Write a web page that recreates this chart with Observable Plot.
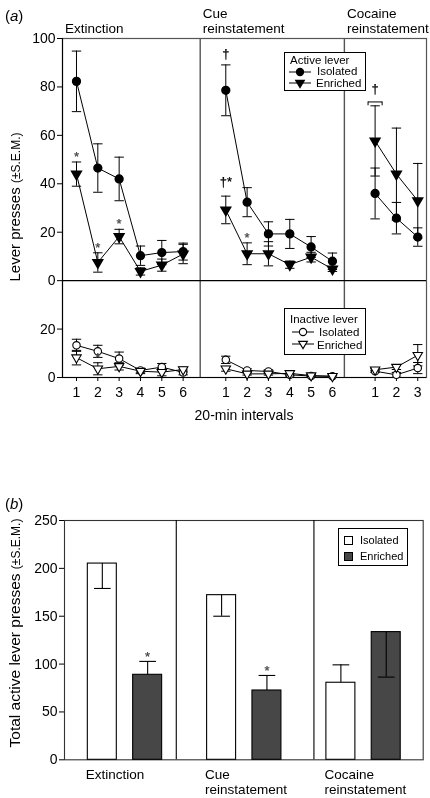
<!DOCTYPE html>
<html><head><meta charset="utf-8">
<script src="https://cdn.jsdelivr.net/npm/d3@7"></script>
<script src="https://cdn.jsdelivr.net/npm/@observablehq/plot@0.6"></script>
<style>
body{margin:0;background:#fff;}
#root{position:relative;width:430px;height:798px;font-family:"Liberation Sans",Arial,sans-serif;color:#000;overflow:hidden;will-change:transform}
.abs{position:absolute;white-space:nowrap}
.leg{position:absolute;background:#fff;border:1px solid #000;box-sizing:border-box;line-height:13px;will-change:transform}
.ylab{position:absolute;width:320px;height:20px;line-height:20px;text-align:center;transform:rotate(-90deg);white-space:nowrap}
.sc{font-size:12px}
svg{will-change:transform}
</style></head><body><div id="root"></div>
<script>
// ---------------- DATA ----------------
const phases = ["Extinction", "Cue reinstatement", "Cocaine reinstatement"];
const phaseTitles = ["Extinction", "Cue\nreinstatement", "Cocaine\nreinstatement"];
const intervals = [[1,2,3,4,5,6],[1,2,3,4,5,6],[1,2,3]];
const groups = ["Isolated", "Enriched"];

// Active lever presses (mean, S.E.M.) per phase and 20-min interval
const activeIsolatedMean = [[82.3,46.5,42,10.3,11.6,12],[78.6,32.4,19.3,19.3,13.9,8],[36,25.8,18]];
const activeIsolatedSem  = [[12.5,10,9,4,5,3.5],[10.5,6,5,6,4.3,3.4],[10.5,6.5,3.8]];
const activeEnrichedMean = [[44,7.5,18.2,3.8,6.4,11],[29.2,11.1,11.1,6.6,9.7,4.8],[57.7,44,33]];
const activeEnrichedSem  = [[5,4,3,1.5,2.5,4],[5.7,4.5,5,1.5,2,1],[14.5,19,15.4]];

// Inactive lever presses
const inactiveIsolatedMean = [[13.3,10.8,7.8,2.9,4.3,2.1],[7.3,2.9,2.5,1.1,0.6,0.5],[2.6,1.1,3.9]];
const inactiveIsolatedSem  = [[2.5,2.5,2.7,1,1.5,1],[1.5,0.7,0.7,0.5,0.5,0.5],[0.5,1,2.3]];
const inactiveEnrichedMean = [[8.2,3.6,4.6,2.6,2.2,3.3],[3.6,1.5,1.5,1.7,0.8,0.5],[3.2,4.3,9.2]];
const inactiveEnrichedSem  = [[3,2.5,1.5,1,1.5,1],[1,0.5,0.5,0.7,0.5,0.5],[0.5,1,4.4]];

// significance marks (panel a)
const sigAnnotations = [
  {lever:"Active", phase:0, interval:1, group:"Enriched", label:"*"},
  {lever:"Active", phase:0, interval:2, group:"Enriched", label:"*"},
  {lever:"Active", phase:0, interval:3, group:"Enriched", label:"*"},
  {lever:"Inactive", phase:0, interval:2, group:"Enriched", label:"*"},
  {lever:"Active", phase:1, interval:1, group:"Isolated", label:"†"},
  {lever:"Active", phase:1, interval:1, group:"Enriched", label:"†*"},
  {lever:"Active", phase:1, interval:2, group:"Enriched", label:"*"},
  {lever:"Active", phase:2, interval:1, group:"Enriched", label:"†", bracket:true}
];

const yTicksA = [-40, -20, 0, 20, 40, 60, 80, 100];
const yTickLabelsA = ["0", "20", "0", "20", "40", "60", "80", "100"];

// Panel b: total active lever presses
const totalCategories = ["Extinction", "Cue\nreinstatement", "Cocaine\nreinstatement"];
const totalIsolatedMean = [205, 172, 80.5];
const totalIsolatedSem  = [26, 22, 18.7];
const totalEnrichedMean = [88.8, 72.4, 133.4];
const totalEnrichedSem  = [14, 15.7, 47];
const totalIsolatedErrDir = [-1, -1, 1];
const totalEnrichedErrDir = [1, 1, -1];
const totalSig = [{cat:0, group:"Enriched", label:"*"}, {cat:1, group:"Enriched", label:"*"}];
const yTicksB = [0, 50, 100, 150, 200, 250];

// ---------------- LAYOUT ----------------
const FONT = "Liberation Sans, Arial, sans-serif";
const phaseOffset = [0, 7, 14];
const separatorsA = [6.8, 13.56];
const xDomainA = [0.344, 17.41];
const inactiveBase = -40;
const capA = 0.22;

const triangleDown = {
  draw(context, size) {
    const y = -Math.sqrt(size / (Math.sqrt(3) * 3));
    context.moveTo(0, -y * 2);
    context.lineTo(-Math.sqrt(3) * y, y);
    context.lineTo(Math.sqrt(3) * y, y);
    context.closePath();
  }
};

const series = [
  {lever:"Active", group:"Isolated", mean:activeIsolatedMean, sem:activeIsolatedSem},
  {lever:"Active", group:"Enriched", mean:activeEnrichedMean, sem:activeEnrichedSem},
  {lever:"Inactive", group:"Isolated", mean:inactiveIsolatedMean, sem:inactiveIsolatedSem},
  {lever:"Inactive", group:"Enriched", mean:inactiveEnrichedMean, sem:inactiveEnrichedSem}
];
const rowsA = series.flatMap(s => phases.flatMap((ph, pi) => intervals[pi].map((iv, k) => {
  const base = s.lever === "Active" ? 0 : inactiveBase;
  const m = s.mean[pi][k], e = s.sem[pi][k];
  return {lever:s.lever, group:s.group, phase:pi, interval:iv, x:phaseOffset[pi] + iv,
          y: base + m, lo: Math.max(base, base + m - e), hi: base + m + e};
})));
const sel = (lever, group) => rowsA.filter(d => d.lever === lever && d.group === group);

const xTicksA = phases.flatMap((p, pi) => intervals[pi].map(iv => phaseOffset[pi] + iv));
const xLabelMap = new Map(phases.flatMap((p, pi) => intervals[pi].map(iv => [phaseOffset[pi] + iv, String(iv)])));
const yLabelMap = new Map(yTicksA.map((t, i) => [t, yTickLabelsA[i]]));

const sigRows = sigAnnotations.map(a => {
  const r = rowsA.find(d => d.lever === a.lever && d.group === a.group && d.phase === a.phase && d.interval === a.interval);
  const dy = a.bracket ? -17 : a.label === "*" ? -5 : a.label === "†" ? -11 : -14;
  return {...a, x: r.x, y: r.hi, dy};
});
const bracketRows = sigRows.filter(d => d.bracket);
const bracketRise = 1.6, bracketHalf = 0.33;

const titleRows = phaseTitles.map((t, i) => ({text: t, x: [xDomainA[0], ...separatorsA][i]}));

const plotA = Plot.plot({
  width: 430, height: 430,
  marginTop: 38, marginBottom: 53, marginLeft: 62, marginRight: 4,
  x: {domain: xDomainA, axis: null},
  y: {domain: [-40, 100], axis: null},
  style: {fontFamily: FONT, fontSize: "14px", background: "transparent", overflow: "visible"},
  marks: [
    Plot.frame({stroke: "#555", strokeWidth: 1.2}),
    Plot.ruleX(separatorsA, {stroke: "#555", strokeWidth: 1.4}),
    Plot.ruleY([0], {stroke: "#000", strokeWidth: 1.1}),
    Plot.ruleX([xDomainA[0]], {stroke: "#000", strokeWidth: 1.1}),
    Plot.ruleY([-40], {stroke: "#000", strokeWidth: 1.1}),
    Plot.axisY({ticks: yTicksA, tickFormat: d => yLabelMap.get(d), tickSize: 5, tickPadding: 2, fontSize: 14, label: null}),
    Plot.axisX({ticks: xTicksA, tickFormat: d => xLabelMap.get(d), tickSize: 4, tickPadding: 6, fontSize: 14, label: null}),
    Plot.text(titleRows, {x: "x", y: 100, text: "text", textAnchor: "start", lineAnchor: "bottom", dx: 2.5, dy: -6, fontSize: 13.5, lineHeight: 1.11}),
    // error bars
    Plot.ruleX(rowsA, {x: "x", y1: "lo", y2: "hi", stroke: "#000", strokeWidth: 1}),
    Plot.link(rowsA, {x1: d => d.x - capA, x2: d => d.x + capA, y1: "hi", y2: "hi", stroke: "#000", strokeWidth: 1}),
    Plot.link(rowsA, {x1: d => d.x - capA, x2: d => d.x + capA, y1: "lo", y2: "lo", stroke: "#000", strokeWidth: 1}),
    // lines
    Plot.line(rowsA, {x: "x", y: "y", z: d => `${d.lever}-${d.group}-${d.phase}`, stroke: "#000", strokeWidth: 1}),
    // markers
    Plot.dot(sel("Active", "Isolated"), {x: "x", y: "y", r: 3.9, fill: "#000", stroke: "#000"}),
    Plot.dot(sel("Active", "Enriched"), {x: "x", y: "y", r: 3.6, symbol: triangleDown, fill: "#000", stroke: "#000"}),
    Plot.dot(sel("Inactive", "Isolated"), {x: "x", y: "y", r: 3.7, fill: "#fff", stroke: "#000", strokeWidth: 1.1}),
    Plot.dot(sel("Inactive", "Enriched"), {x: "x", y: "y", r: 3.5, symbol: triangleDown, fill: "#fff", stroke: "#000", strokeWidth: 1.1}),
    // significance
    ...sigRows.map(s => Plot.text([s], {x: "x", y: "y", text: "label", dy: s.dy, fontSize: 13,
        fill: s.label === "*" ? "#444" : "#000", stroke: s.label === "*" ? "#444" : "#000", strokeWidth: 0.25})),
    Plot.link(bracketRows, {x1: d => d.x - bracketHalf, x2: d => d.x + bracketHalf, y1: d => d.y + bracketRise, y2: d => d.y + bracketRise, stroke: "#000"}),
    Plot.ruleX(bracketRows, {x: d => d.x - bracketHalf, y1: "y", y2: d => d.y + bracketRise, stroke: "#000"}),
    Plot.ruleX(bracketRows, {x: d => d.x + bracketHalf, y1: "y", y2: d => d.y + bracketRise, stroke: "#000"})
  ]
});

// Panel b
const barOffset = 0.19, barHalf = 0.1215, capB = 0.07;
const rowsB = totalCategories.flatMap((c, g) => [
  {cat: g, group: "Isolated", x: g - barOffset, mean: totalIsolatedMean[g], sem: totalIsolatedSem[g], dir: totalIsolatedErrDir[g]},
  {cat: g, group: "Enriched", x: g + barOffset, mean: totalEnrichedMean[g], sem: totalEnrichedSem[g], dir: totalEnrichedErrDir[g]}
]).map(d => ({...d, err: d.mean + d.dir * d.sem}));
const sigB = totalSig.map(s => {
  const r = rowsB.find(d => d.cat === s.cat && d.group === s.group);
  return {...s, x: r.x, y: Math.max(r.mean, r.err)};
});
const catRows = totalCategories.map((c, g) => ({text: c, x: g - barOffset - barHalf}));

const plotB = Plot.plot({
  width: 430, height: 298,
  marginTop: 20, marginBottom: 38.7, marginLeft: 64, marginRight: 7.3,
  x: {domain: [-0.507, 2.5], axis: null},
  y: {domain: [0, 250], axis: null},
  style: {fontFamily: FONT, fontSize: "14px", background: "transparent", overflow: "visible"},
  marks: [
    Plot.frame({stroke: "#333", strokeWidth: 1.1}),
    Plot.ruleX([0.43, 1.584], {stroke: "#000", strokeWidth: 1.1}),
    Plot.axisY({ticks: yTicksB, tickSize: 5, tickPadding: 2, fontSize: 14, label: null}),
    Plot.rectY(rowsB.filter(d => d.group === "Isolated"), {x1: d => d.x - barHalf, x2: d => d.x + barHalf, y1: 0, y2: "mean", fill: "#fff", stroke: "#000", strokeWidth: 1.1}),
    Plot.rectY(rowsB.filter(d => d.group === "Enriched"), {x1: d => d.x - barHalf, x2: d => d.x + barHalf, y1: 0, y2: "mean", fill: "#474747", stroke: "#000", strokeWidth: 1.1}),
    Plot.ruleX(rowsB, {x: "x", y1: "mean", y2: "err", stroke: "#000", strokeWidth: 1.1}),
    Plot.link(rowsB, {x1: d => d.x - capB, x2: d => d.x + capB, y1: "err", y2: "err", stroke: "#000", strokeWidth: 1.1}),
    Plot.text(sigB, {x: "x", y: "y", text: "label", dy: -5, fontSize: 13, fill: "#444", stroke: "#444", strokeWidth: 0.25}),
    Plot.text(catRows, {x: "x", y: 0, text: "text", textAnchor: "start", lineAnchor: "top", dx: -2, dy: 9, fontSize: 13.5, lineHeight: 1.11})
  ]
});

// ---------------- ASSEMBLE ----------------
const root = document.getElementById("root");
const place = (el, top) => { el.style.position = "absolute"; el.style.left = "0px"; el.style.top = top + "px"; root.appendChild(el); };
place(plotA, 0);
place(plotB, 500);

function addHTML(html) { const d = document.createElement("div"); d.innerHTML = html; while (d.firstChild) root.appendChild(d.firstChild); }
const circleSym = (filled) => `<svg width="22" height="10" style="position:absolute;left:0;top:0"><line x1="0" y1="5" x2="22" y2="5" stroke="#000"/><circle cx="11" cy="5" r="3.6" fill="${filled ? "#000" : "#fff"}" stroke="#000" stroke-width="1.1"/></svg>`;
const triSym = (filled) => `<svg width="22" height="10" style="position:absolute;left:0;top:0"><line x1="0" y1="4" x2="22" y2="4" stroke="#000"/><path d="M11,8.6 L15.4,1.4 L6.6,1.4 Z" fill="${filled ? "#000" : "#fff"}" stroke="#000" stroke-width="1.1"/></svg>`;
addHTML(`
<div class="abs" style="left:5px;top:7px;font-size:15px">(<i>a</i>)</div>
<div class="abs" style="left:5px;top:495px;font-size:15px">(<i>b</i>)</div>
<div class="ylab" style="left:-145px;top:197px;font-size:15px">Lever presses <span class="sc">(±S.E.M.)</span></div>
<div class="ylab" style="left:-145px;top:623px;font-size:15.5px">Total active lever presses <span class="sc">(±S.E.M.)</span></div>
<div class="abs" style="left:194px;top:407px;width:100px;text-align:center;font-size:14px">20-min intervals</div>
<div class="leg" style="left:284px;top:52px;width:82px;height:39px;font-size:11.5px">
  <div class="abs" style="left:5px;top:0.5px">Active lever</div>
  <div class="abs" style="left:4px;top:13.5px;width:22px;height:10px">${circleSym(true)}</div>
  <div class="abs" style="left:32px;top:12px">Isolated</div>
  <div class="abs" style="left:4px;top:25.5px;width:22px;height:10px">${triSym(true)}</div>
  <div class="abs" style="left:31px;top:23.5px">Enriched</div>
</div>
<div class="leg" style="left:284px;top:308px;width:82px;height:47px;font-size:11.5px">
  <div class="abs" style="left:5px;top:3.5px">Inactive lever</div>
  <div class="abs" style="left:7px;top:18px;width:22px;height:10px">${circleSym(false)}</div>
  <div class="abs" style="left:34px;top:16.5px">Isolated</div>
  <div class="abs" style="left:7px;top:31px;width:22px;height:10px">${triSym(false)}</div>
  <div class="abs" style="left:32px;top:29.5px">Enriched</div>
</div>
<div class="leg" style="left:338px;top:528px;width:70px;height:38px;font-size:11px">
  <div class="abs" style="left:5px;top:7px;width:9px;height:9px;border:1px solid #000;background:#fff;box-sizing:border-box"></div>
  <div class="abs" style="left:21px;top:5px">Isolated</div>
  <div class="abs" style="left:5px;top:23px;width:9px;height:9px;border:1px solid #000;background:#474747;box-sizing:border-box"></div>
  <div class="abs" style="left:21px;top:21px">Enriched</div>
</div>
`);
</script></body></html>
